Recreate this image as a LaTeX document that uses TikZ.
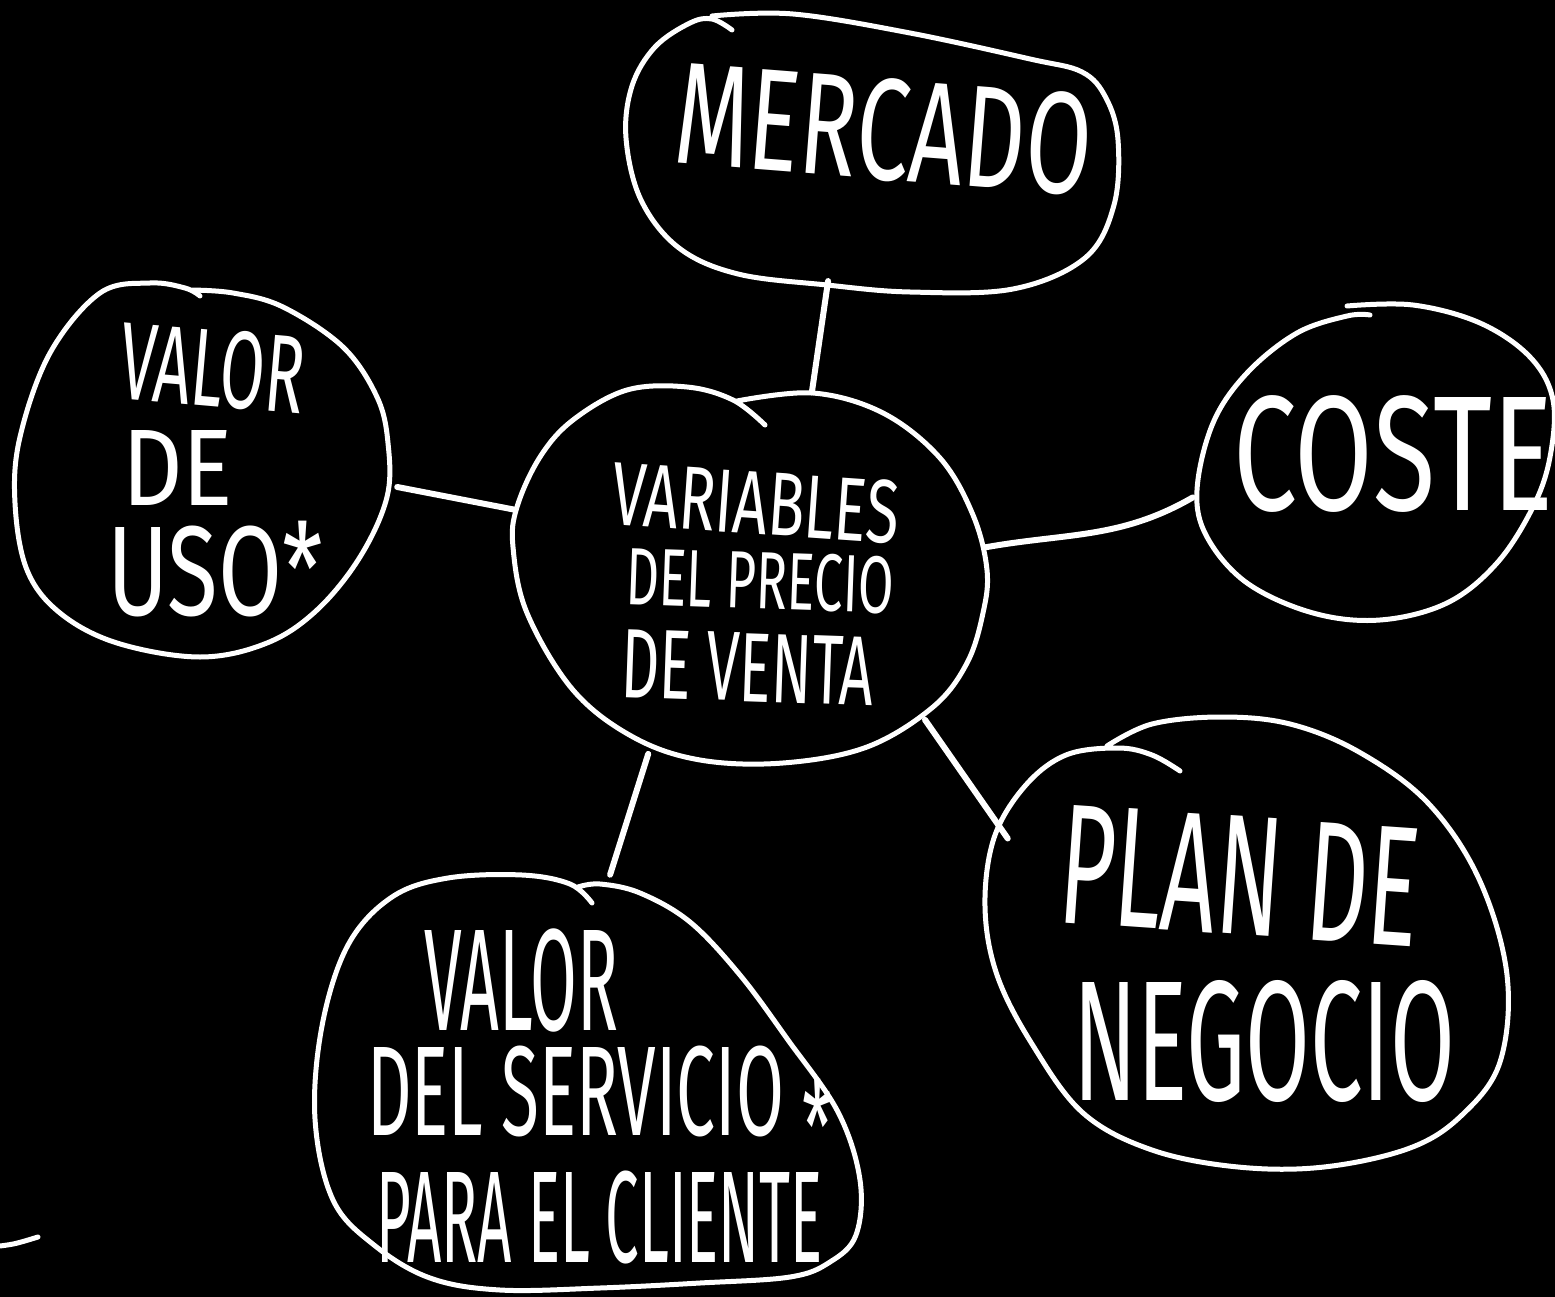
\documentclass[tikz,border=0pt]{standalone}
\usepackage{fontspec}
\newfontfamily\hand{Fira Sans}
% text of width #1 (pt) and cap height #2 (pt)
\newcommand{\hw}[3]{%
  \begingroup
  \pgfmathsetmacro\hwsize{#2/0.689}%
  \hand\fontsize{\hwsize pt}{\hwsize pt}\selectfont
  \setbox0=\hbox{#3}%
  \pgfmathsetmacro\hwratio{#1/\the\wd0}%
  \addfontfeatures{FakeStretch=\hwratio}#3%
  \endgroup}
\usetikzlibrary{shapes.geometric}

\begin{document}
\begin{tikzpicture}[x=1pt, y=-1pt,
  blob/.style={draw=white, line width=5pt, line cap=round, line join=round},
  link/.style={draw=white, line width=6pt, line cap=round},
  bubble/.style={ellipse, draw=none, inner sep=0pt, outer sep=0pt},
  handtext/.style={text=white, inner sep=0pt, outer sep=0pt, anchor=base west}]

  \useasboundingbox (0,0) rectangle (1555,1297);
  \fill[black] (0,0) rectangle (1555,1297);

  % bubbles, for the anchors of the links
  \node[bubble, minimum width=490pt, minimum height=262pt] (mercado) at (870,152) {};
  \node[bubble, minimum width=476pt, minimum height=372pt] (centro) at (750,572) {};
  \node[bubble, minimum width=390pt, minimum height=380pt] (uso) at (203,470) {};
  \node[bubble, minimum width=374pt, minimum height=316pt] (coste) at (1375,462) {};
  \node[bubble, minimum width=540pt, minimum height=460pt] (plan) at (1247,945) {};
  \node[bubble, minimum width=550pt, minimum height=422pt] (servicio) at (588,1085) {};

  % hand drawn outlines
  \draw[blob] plot[smooth, tension=0.6] coordinates {(712,16) (793,14) (910,33) (1030,59) (1082,72) (1106,98) (1118,140) (1114,205) (1085,258) (1013,289) (910,292) (827,285) (738,274) (679,248) (641,200) (626,138) (632,86) (655,47) (690,23) (712,19) (732,30)};
  \draw[blob] plot[smooth, tension=0.6] coordinates {(765,425) (733,400) (687,387) (627,390) (573,420) (540,457) (517,507) (513,547) (527,613) (573,690) (633,737) (700,760) (783,763) (867,747) (933,707) (967,663) (983,613) (987,570) (973,515) (940,458) (883,413) (813,393) (737,401)};
  \draw[blob] plot[smooth, tension=0.6] coordinates {(190,290) (233,293) (283,307) (343,347) (377,397) (388,443) (387,497) (360,557) (317,610) (267,643) (200,657) (117,643) (60,613) (27,570) (15,503) (20,437) (50,353) (100,293) (150,283) (185,288) (200,296)};
  \draw[blob] plot[smooth, tension=0.6] coordinates {(1370,315) (1347,316) (1297,333) (1247,373) (1213,423) (1197,490) (1207,537) (1247,583) (1313,613) (1380,620) (1447,603) (1497,563) (1533,507) (1550,457) (1553,400) (1530,357) (1480,323) (1413,305) (1347,306)};
  \draw[blob] plot[smooth, tension=0.6] coordinates {(1180,771) (1152,755) (1118,748) (1066,755) (1025,786) (994,838) (985,907) (997,975) (1032,1044) (1083,1113) (1152,1150) (1238,1167) (1324,1167) (1410,1148) (1462,1115) (1500,1062) (1507,975) (1479,879) (1428,803) (1359,752) (1290,724) (1221,717) (1152,724) (1107,746)};
  \draw[blob] plot[smooth, tension=0.6] coordinates {(592,903) (570,884) (522,875) (448,878) (392,897) (348,945) (322,1026) (315,1119) (333,1200) (374,1245) (430,1278) (500,1290) (600,1288) (700,1283) (790,1277) (830,1262) (856,1235) (860,1180) (838,1112) (788,1040) (740,975) (690,922) (640,893) (600,884) (578,887)};
  \draw[blob] (0,1246) .. controls (15,1244) .. (38,1237);

  % links
  \draw[link] (mercado.252) -- (centro.71);
  \draw[link, shorten >=10pt] (uso.355) -- (centro.165);
  \draw[link] (centro.6) to[out=10, in=210] (coste.191);
  \draw[link, shorten <=17pt] (centro.321) -- (plan.156);
  \draw[link, shorten <=13pt] (centro.240) -- (servicio.84);

  % texts
  \node[handtext, rotate=-4.5] (mercado-txt) at (672,163) {\hw{417}{100}{MERCADO}};
  \node[handtext, rotate=-4] (centro-l1) at (610,524) {\hw{288}{62}{VARIABLES}};
  \node[handtext, rotate=-2] (centro-l2) at (625,604) {\hw{268}{56}{DEL PRECIO}};
  \node[handtext, rotate=-2] (centro-l3) at (620,697) {\hw{253}{68}{DE VENTA}};
  \node[handtext, rotate=-5] (uso-l1) at (117,398) {\hw{185}{76}{VALOR}};
  \node[handtext] (uso-l2) at (122,505) {\hw{111}{75}{DE}};
  \node[handtext] (uso-l3) at (107,615) {\hw{216}{88}{USO*}};
  \node[handtext] (coste-txt) at (1233,510) {\hw{320}{113}{COSTE}};
  \node[handtext, rotate=-4] (plan-l1) at (1056,922) {\hw{360}{118}{PLAN DE}};
  \node[handtext] (plan-l2) at (1073,1100) {\hw{382}{118}{NEGOCIO}};
  \node[handtext] (servicio-l1) at (424,1030) {\hw{194}{100}{VALOR}};
  \node[handtext] (servicio-l2) at (367,1135) {\hw{466}{88}{DEL SERVICIO \raisebox{-0.3em}{*}}};
  \node[handtext] (servicio-l3) at (376,1262) {\hw{447}{90}{PARA EL CLIENTE}};

\end{tikzpicture}
\end{document}
